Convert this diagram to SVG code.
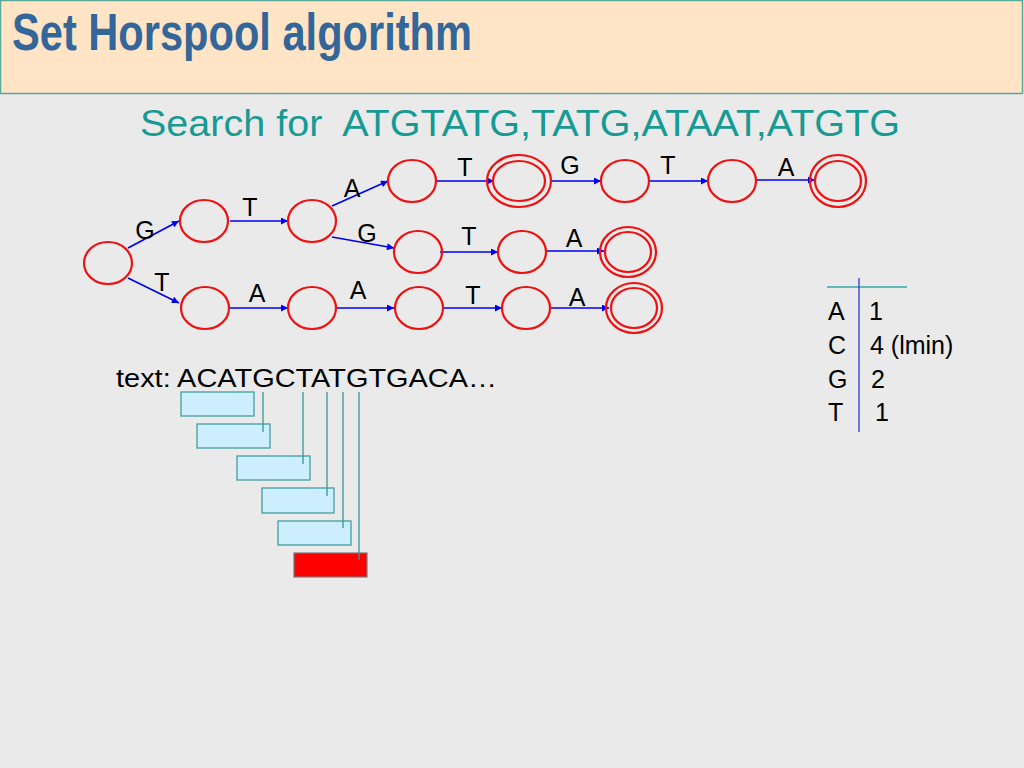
<svg xmlns="http://www.w3.org/2000/svg" width="1024" height="768" viewBox="0 0 1024 768">
<defs>
<marker id="arr" viewBox="0 0 10 10" refX="10" refY="5" markerWidth="9" markerHeight="7" markerUnits="userSpaceOnUse" orient="auto">
<path d="M0,0 L10,5 L0,10 z" fill="#0000EE"/>
</marker>
<style>
.st{fill:none;stroke:#EE1111;stroke-width:2.2}
.ed{stroke:#0000EE;stroke-width:1.6;fill:none;marker-end:url(#arr)}
.lb{font-family:"Liberation Sans",Arial,sans-serif;font-size:25px;fill:#000;text-anchor:middle}
.tb{font-family:"Liberation Sans",Arial,sans-serif;font-size:25px;fill:#000}
.win{fill:#CCEEFF;stroke:#339999;stroke-width:1.2}
.ptr{stroke:#339999;stroke-width:1.3}
</style>
</defs>
<rect width="1024" height="768" fill="#EAEAEA"/>
<g id="title">
<rect x="0.5" y="0.5" width="1022" height="93" fill="#FFE4C6" stroke="#5AAA9A" stroke-width="1.5"/>
<text x="12" y="50" font-family="'Liberation Sans Narrow','Liberation Sans',Arial,sans-serif" font-weight="bold" font-size="52" fill="#336699" textLength="460" lengthAdjust="spacingAndGlyphs">Set Horspool algorithm</text>
</g>
<text id="subtitle" x="140" y="136" font-family="'Liberation Sans',Arial,sans-serif" font-size="37" fill="#189A94" textLength="760" lengthAdjust="spacingAndGlyphs" xml:space="preserve">Search for  ATGTATG,TATG,ATAAT,ATGTG</text>
<g id="connectors">
<line class="ed" x1="128" y1="248" x2="179" y2="221"/>
<line class="ed" x1="128" y1="278" x2="179" y2="303"/>
<line class="ed" x1="230" y1="221" x2="288" y2="221"/>
<line class="ed" x1="332" y1="206" x2="388" y2="181"/>
<line class="ed" x1="332" y1="237" x2="394" y2="248"/>
<line class="ed" x1="437" y1="181" x2="494" y2="181"/>
<line class="ed" x1="551" y1="181" x2="601" y2="181"/>
<line class="ed" x1="650" y1="181" x2="708" y2="181"/>
<line class="ed" x1="756" y1="180" x2="815" y2="180"/>
<line class="ed" x1="440" y1="252" x2="498" y2="252"/>
<line class="ed" x1="547" y1="251" x2="604" y2="251"/>
<line class="ed" x1="230" y1="308" x2="288" y2="308"/>
<line class="ed" x1="337" y1="308" x2="394" y2="308"/>
<line class="ed" x1="443" y1="308" x2="502" y2="308"/>
<line class="ed" x1="551" y1="308" x2="609" y2="308"/>
</g>
<g id="n0"><ellipse class="st" cx="108" cy="263" rx="24" ry="21"/></g>
<g id="n1"><ellipse class="st" cx="204" cy="221" rx="24" ry="21"/></g>
<g id="n2"><ellipse class="st" cx="312" cy="221" rx="24" ry="21"/></g>
<g id="n3"><ellipse class="st" cx="412" cy="181" rx="24" ry="21"/></g>
<g id="n4"><ellipse class="st" cx="519" cy="181" rx="32" ry="26"/><ellipse class="st" cx="519" cy="181" rx="26" ry="20"/></g>
<g id="n5"><ellipse class="st" cx="625" cy="181" rx="24" ry="21"/></g>
<g id="n6"><ellipse class="st" cx="732" cy="181" rx="24" ry="21"/></g>
<g id="n7"><ellipse class="st" cx="838" cy="181" rx="28" ry="26"/><ellipse class="st" cx="838" cy="181" rx="23" ry="20"/></g>
<g id="n8"><ellipse class="st" cx="418" cy="252" rx="24" ry="21"/></g>
<g id="n9"><ellipse class="st" cx="522" cy="252" rx="24" ry="21"/></g>
<g id="n10"><ellipse class="st" cx="628" cy="252" rx="28" ry="25"/><ellipse class="st" cx="628" cy="252" rx="23" ry="20"/></g>
<g id="n11"><ellipse class="st" cx="205" cy="308" rx="24" ry="21"/></g>
<g id="n12"><ellipse class="st" cx="312" cy="308" rx="24" ry="21"/></g>
<g id="n13"><ellipse class="st" cx="419" cy="308" rx="24" ry="21"/></g>
<g id="n14"><ellipse class="st" cx="526" cy="308" rx="24" ry="21"/></g>
<g id="n15"><ellipse class="st" cx="634" cy="308" rx="28" ry="25"/><ellipse class="st" cx="634" cy="308" rx="23" ry="20"/></g>
<g id="labels">
<text class="lb" x="145" y="239">G</text>
<text class="lb" x="250" y="216">T</text>
<text class="lb" x="352" y="197">A</text>
<text class="lb" x="367" y="242">G</text>
<text class="lb" x="162" y="291">T</text>
<text class="lb" x="257" y="302">A</text>
<text class="lb" x="358" y="299">A</text>
<text class="lb" x="465" y="176">T</text>
<text class="lb" x="570" y="174">G</text>
<text class="lb" x="668" y="174">T</text>
<text class="lb" x="786" y="176">A</text>
<text class="lb" x="469" y="245">T</text>
<text class="lb" x="574" y="247">A</text>
<text class="lb" x="473" y="304">T</text>
<text class="lb" x="577" y="306">A</text>
</g>
<g id="table">
<line x1="827" y1="287" x2="907" y2="287" stroke="#33AAAA" stroke-width="1.3"/>
<line x1="859" y1="278" x2="859" y2="432" stroke="#3333DD" stroke-width="1.3"/>
<text class="tb" x="828" y="320">A</text><text class="tb" x="869" y="320">1</text>
<text class="tb" x="828" y="354">C</text><text class="tb" x="870" y="354">4 (lmin)</text>
<text class="tb" x="828" y="388">G</text><text class="tb" x="871" y="388">2</text>
<text class="tb" x="828" y="421">T</text><text class="tb" x="875" y="421">1</text>
</g>
<g id="textline">
<text class="tb" x="116" y="387" font-size="26" textLength="381" lengthAdjust="spacingAndGlyphs">text: ACATGCTATGTGACA…</text>
<rect class="win" x="181" y="392" width="73" height="24"/>
<rect class="win" x="197" y="424" width="73" height="24"/>
<rect class="win" x="237" y="456" width="73" height="24"/>
<rect class="win" x="262" y="488" width="72" height="25"/>
<rect class="win" x="278" y="521" width="73" height="24"/>
<rect x="294" y="553" width="73" height="24" fill="#FF0000" stroke="#777777" stroke-width="1.2"/>
<line class="ptr" x1="263" y1="392" x2="263" y2="432"/>
<line class="ptr" x1="303" y1="392" x2="303" y2="464"/>
<line class="ptr" x1="327" y1="392" x2="327" y2="496"/>
<line class="ptr" x1="343" y1="392" x2="343" y2="528"/>
<line class="ptr" x1="359" y1="392" x2="359" y2="560"/>
</g>
</svg>
